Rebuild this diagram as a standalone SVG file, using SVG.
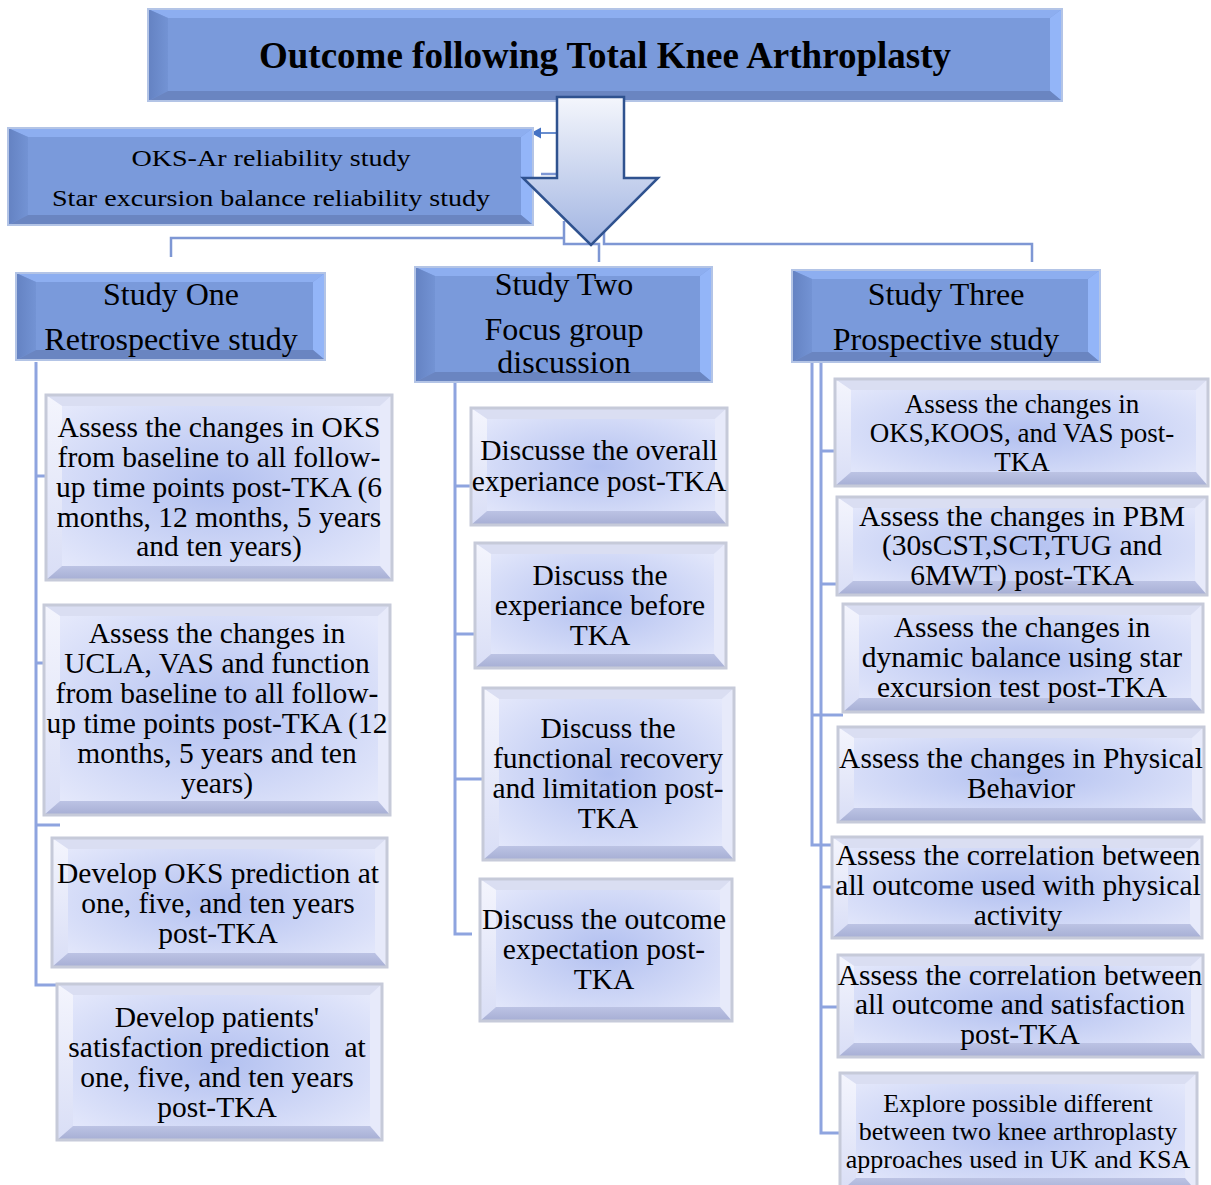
<svg xmlns="http://www.w3.org/2000/svg" width="1211" height="1185" viewBox="0 0 1211 1185">
  <defs>
    <radialGradient id="ltFace" cx="50%" cy="50%" r="62%">
      <stop offset="0" stop-color="#b2c0f0"/>
      <stop offset="1" stop-color="#e4e8fb"/>
    </radialGradient>
    <linearGradient id="arrowFill" x1="0" y1="0" x2="0" y2="1">
      <stop offset="0" stop-color="#f4f6fc"/>
      <stop offset="1" stop-color="#a2b5e2"/>
    </linearGradient>
    <linearGradient id="dkLeft" x1="0" y1="0" x2="1" y2="0">
      <stop offset="0" stop-color="#6482c2"/>
      <stop offset="1" stop-color="#7393d4"/>
    </linearGradient>
    <linearGradient id="ltLeft" x1="0" y1="0" x2="0" y2="1">
      <stop offset="0" stop-color="#f4f5fd"/>
      <stop offset="1" stop-color="#d9def6"/>
    </linearGradient>
    <linearGradient id="ltBottom" x1="0" y1="0" x2="0" y2="1">
      <stop offset="0" stop-color="#bcc3e4"/>
      <stop offset="1" stop-color="#a6aed4"/>
    </linearGradient>
  </defs>
  <style>
    .dk-face { fill: #7a9adb; }
    .dk-t { fill: #8daef0; }
    .dk-l { fill: url(#dkLeft); }
    .dk-r { fill: #93b5f8; }
    .dk-b { fill: #6a85c1; }
    .dk-edge { fill: none; stroke: #b3c4e6; stroke-width: 2; }
    .lt-face { fill: url(#ltFace); }
    .lt-t { fill: #dadef2; }
    .lt-l { fill: url(#ltLeft); }
    .lt-r { fill: #e7eafa; }
    .lt-b { fill: url(#ltBottom); }
    .lt-edge { fill: none; stroke: #c6cad9; stroke-width: 3; }
    .conn { fill: none; stroke: #8ea4df; stroke-width: 3; }
    .conn-top { fill: none; stroke: #7e97d4; stroke-width: 2.5; }
    .t { font-family: "Liberation Serif", "Times New Roman", serif; fill: #000; text-anchor: middle; }
    .title { font-size: 37px; font-weight: bold; }
    .hdr { font-size: 32px; }
    .oks { font-size: 24px; }
    .c { font-size: 29.5px; }
    .cs { font-size: 27px; }
    .cx { font-size: 26px; }
    .bigarrow { fill: url(#arrowFill); stroke: #2f528f; stroke-width: 2.5; stroke-linejoin: miter; }
  </style>

  <rect width="1211" height="1185" fill="#ffffff"/>

  <!-- connectors -->
  <g id="connectors">
    <path class="conn-top" d="M171 257 V238 H564"/>
    <path class="conn-top" d="M564 221 V244 H599 V262"/>
    <path class="conn-top" d="M604 232 V244 H1032 V262"/>
    <path class="conn-top" d="M541 174 H557"/>
    <line x1="557" y1="133" x2="539" y2="133" stroke="#4472c4" stroke-width="1.6"/>
    <polygon points="531,133 541,127.5 541,138.5" fill="#4472c4"/>

    <!-- Study One branches -->
    <path class="conn" d="M36 362 V985 H60"/>
    <path class="conn" d="M36 476 H62 M36 663 H53 M36 825 H60"/>
    <!-- Study Two branches -->
    <path class="conn" d="M455 382 V934 H472"/>
    <path class="conn" d="M455 486 H472 M455 634 H475 M455 779 H484"/>
    <!-- Study Three branches -->
    <path class="conn" d="M812 362 V845 H833"/>
    <path class="conn" d="M812 715 H843"/>
    <path class="conn" d="M821 362 V1133 H840"/>
    <path class="conn" d="M821 451 H835 M821 584 H837 M821 887 H832 M821 1007 H838"/>
  </g>

  <!-- title -->
  <g id="title">
    <rect class="dk-face" x="148" y="9" width="914" height="92"/>
    <polygon class="dk-t" points="148,9 1062,9 1050,18 168,18"/>
    <polygon class="dk-l" points="148,9 168,18 168,91 148,101"/>
    <polygon class="dk-r" points="1062,9 1050,18 1050,91 1062,101"/>
    <polygon class="dk-b" points="148,101 168,91 1050,91 1062,101"/>
    <rect class="dk-edge" x="148" y="9" width="914" height="92"/>
    <text class="t title" x="605" y="68">Outcome following Total Knee Arthroplasty</text>
  </g>

  <!-- reliability studies -->
  <g id="reliability">
    <rect class="dk-face" x="8" y="128" width="525" height="97"/>
    <polygon class="dk-t" points="8,128 533,128 521,137 28,137"/>
    <polygon class="dk-l" points="8,128 28,137 28,215 8,225"/>
    <polygon class="dk-r" points="533,128 521,137 521,215 533,225"/>
    <polygon class="dk-b" points="8,225 28,215 521,215 533,225"/>
    <rect class="dk-edge" x="8" y="128" width="525" height="97"/>
    <text class="t oks" transform="translate(271,166) scale(1.17,1)">OKS-Ar reliability study</text>
    <text class="t oks" transform="translate(271,206) scale(1.17,1)">Star excursion balance reliability study</text>
  </g>

  <!-- central arrow -->
  <g id="main-arrow">
    <polygon class="bigarrow" points="557,97 624,97 624,178 658,178 591,245 523,178 557,178"/>
  </g>

  <!-- Study One -->
  <g id="study-one">
    <rect class="dk-face" x="16" y="273" width="309" height="87"/>
    <polygon class="dk-t" points="16,273 325,273 313,282 36,282"/>
    <polygon class="dk-l" points="16,273 36,282 36,350 16,360"/>
    <polygon class="dk-r" points="325,273 313,282 313,350 325,360"/>
    <polygon class="dk-b" points="16,360 36,350 313,350 325,360"/>
    <rect class="dk-edge" x="16" y="273" width="309" height="87"/>
    <text class="t hdr" x="171" y="305">Study One</text>
    <text class="t hdr" x="171" y="350">Retrospective study</text>
  </g>

  <!-- Study Two -->
  <g id="study-two">
    <rect class="dk-face" x="415" y="267" width="297" height="115"/>
    <polygon class="dk-t" points="415,267 712,267 700,276 435,276"/>
    <polygon class="dk-l" points="415,267 435,276 435,372 415,382"/>
    <polygon class="dk-r" points="712,267 700,276 700,372 712,382"/>
    <polygon class="dk-b" points="415,382 435,372 700,372 712,382"/>
    <rect class="dk-edge" x="415" y="267" width="297" height="115"/>
    <text class="t hdr" x="564" y="295">Study Two</text>
    <text class="t hdr" x="564" y="340">Focus group</text>
    <text class="t hdr" x="564" y="373">discussion</text>
  </g>

  <!-- Study Three -->
  <g id="study-three">
    <rect class="dk-face" x="792" y="270" width="308" height="92"/>
    <polygon class="dk-t" points="792,270 1100,270 1088,279 812,279"/>
    <polygon class="dk-l" points="792,270 812,279 812,352 792,362"/>
    <polygon class="dk-r" points="1100,270 1088,279 1088,352 1100,362"/>
    <polygon class="dk-b" points="792,362 812,352 1088,352 1100,362"/>
    <rect class="dk-edge" x="792" y="270" width="308" height="92"/>
    <text class="t hdr" x="946" y="305">Study Three</text>
    <text class="t hdr" x="946" y="350">Prospective study</text>
  </g>

  <!-- Study One tasks -->
  <g id="s1-oks-change">
    <rect class="lt-face" x="46" y="395" width="346" height="185"/>
    <polygon class="lt-t" points="46,395 392,395 380,406 62,406"/>
    <polygon class="lt-l" points="46,395 62,406 62,566 46,580"/>
    <polygon class="lt-r" points="392,395 380,406 380,566 392,580"/>
    <polygon class="lt-b" points="46,580 62,566 380,566 392,580"/>
    <rect class="lt-edge" x="46" y="395" width="346" height="185"/>
    <text class="t c" x="219" y="437">Assess the changes in OKS</text>
    <text class="t c" x="219" y="467">from baseline to all follow-</text>
    <text class="t c" x="219" y="497">up time points post-TKA (6</text>
    <text class="t c" x="219" y="527">months, 12 months, 5 years</text>
    <text class="t c" x="219" y="556">and ten years)</text>
  </g>

  <g id="s1-ucla-change">
    <rect class="lt-face" x="44" y="605" width="346" height="210"/>
    <polygon class="lt-t" points="44,605 390,605 378,616 60,616"/>
    <polygon class="lt-l" points="44,605 60,616 60,801 44,815"/>
    <polygon class="lt-r" points="390,605 378,616 378,801 390,815"/>
    <polygon class="lt-b" points="44,815 60,801 378,801 390,815"/>
    <rect class="lt-edge" x="44" y="605" width="346" height="210"/>
    <text class="t c" x="217" y="643">Assess the changes in</text>
    <text class="t c" x="217" y="673">UCLA, VAS and function</text>
    <text class="t c" x="217" y="703">from baseline to all follow-</text>
    <text class="t c" x="217" y="733">up time points post-TKA (12</text>
    <text class="t c" x="217" y="763">months, 5 years and ten</text>
    <text class="t c" x="217" y="793">years)</text>
  </g>

  <g id="s1-oks-prediction">
    <rect class="lt-face" x="52" y="838" width="335" height="129"/>
    <polygon class="lt-t" points="52,838 387,838 375,849 68,849"/>
    <polygon class="lt-l" points="52,838 68,849 68,953 52,967"/>
    <polygon class="lt-r" points="387,838 375,849 375,953 387,967"/>
    <polygon class="lt-b" points="52,967 68,953 375,953 387,967"/>
    <rect class="lt-edge" x="52" y="838" width="335" height="129"/>
    <text class="t c" x="218" y="883">Develop OKS prediction at</text>
    <text class="t c" x="218" y="913">one, five, and ten years</text>
    <text class="t c" x="218" y="943">post-TKA</text>
  </g>

  <g id="s1-satisfaction-prediction">
    <rect class="lt-face" x="57" y="984" width="325" height="156"/>
    <polygon class="lt-t" points="57,984 382,984 370,995 73,995"/>
    <polygon class="lt-l" points="57,984 73,995 73,1126 57,1140"/>
    <polygon class="lt-r" points="382,984 370,995 370,1126 382,1140"/>
    <polygon class="lt-b" points="57,1140 73,1126 370,1126 382,1140"/>
    <rect class="lt-edge" x="57" y="984" width="325" height="156"/>
    <text class="t c" x="217" y="1027">Develop patients'</text>
    <text class="t c" x="217" y="1057" xml:space="preserve">satisfaction prediction  at</text>
    <text class="t c" x="217" y="1087">one, five, and ten years</text>
    <text class="t c" x="217" y="1117">post-TKA</text>
  </g>

  <!-- Study Two topics -->
  <g id="s2-overall">
    <rect class="lt-face" x="471" y="408" width="256" height="117"/>
    <polygon class="lt-t" points="471,408 727,408 715,419 487,419"/>
    <polygon class="lt-l" points="471,408 487,419 487,511 471,525"/>
    <polygon class="lt-r" points="727,408 715,419 715,511 727,525"/>
    <polygon class="lt-b" points="471,525 487,511 715,511 727,525"/>
    <rect class="lt-edge" x="471" y="408" width="256" height="117"/>
    <text class="t c" x="599" y="460">Discusse the overall</text>
    <text class="t c" x="599" y="491">experiance post-TKA</text>
  </g>

  <g id="s2-before">
    <rect class="lt-face" x="475" y="543" width="251" height="125"/>
    <polygon class="lt-t" points="475,543 726,543 714,554 491,554"/>
    <polygon class="lt-l" points="475,543 491,554 491,654 475,668"/>
    <polygon class="lt-r" points="726,543 714,554 714,654 726,668"/>
    <polygon class="lt-b" points="475,668 491,654 714,654 726,668"/>
    <rect class="lt-edge" x="475" y="543" width="251" height="125"/>
    <text class="t c" x="600" y="585">Discuss the</text>
    <text class="t c" x="600" y="615">experiance before</text>
    <text class="t c" x="600" y="645">TKA</text>
  </g>

  <g id="s2-recovery">
    <rect class="lt-face" x="483" y="688" width="251" height="172"/>
    <polygon class="lt-t" points="483,688 734,688 722,699 499,699"/>
    <polygon class="lt-l" points="483,688 499,699 499,846 483,860"/>
    <polygon class="lt-r" points="734,688 722,699 722,846 734,860"/>
    <polygon class="lt-b" points="483,860 499,846 722,846 734,860"/>
    <rect class="lt-edge" x="483" y="688" width="251" height="172"/>
    <text class="t c" x="608" y="738">Discuss the</text>
    <text class="t c" x="608" y="768">functional recovery</text>
    <text class="t c" x="608" y="798">and limitation post-</text>
    <text class="t c" x="608" y="828">TKA</text>
  </g>

  <g id="s2-expectation">
    <rect class="lt-face" x="480" y="879" width="252" height="142"/>
    <polygon class="lt-t" points="480,879 732,879 720,890 496,890"/>
    <polygon class="lt-l" points="480,879 496,890 496,1007 480,1021"/>
    <polygon class="lt-r" points="732,879 720,890 720,1007 732,1021"/>
    <polygon class="lt-b" points="480,1021 496,1007 720,1007 732,1021"/>
    <rect class="lt-edge" x="480" y="879" width="252" height="142"/>
    <text class="t c" x="604" y="929">Discuss the outcome</text>
    <text class="t c" x="604" y="959">expectation post-</text>
    <text class="t c" x="604" y="989">TKA</text>
  </g>

  <!-- Study Three aims -->
  <g id="s3-proms">
    <rect class="lt-face" x="835" y="379" width="373" height="107"/>
    <polygon class="lt-t" points="835,379 1208,379 1196,390 851,390"/>
    <polygon class="lt-l" points="835,379 851,390 851,472 835,486"/>
    <polygon class="lt-r" points="1208,379 1196,390 1196,472 1208,486"/>
    <polygon class="lt-b" points="835,486 851,472 1196,472 1208,486"/>
    <rect class="lt-edge" x="835" y="379" width="373" height="107"/>
    <text class="t cs" x="1022" y="413">Assess the changes in</text>
    <text class="t cs" x="1022" y="442">OKS,KOOS, and VAS post-</text>
    <text class="t cs" x="1022" y="471">TKA</text>
  </g>

  <g id="s3-pbm">
    <rect class="lt-face" x="837" y="497" width="370" height="98"/>
    <polygon class="lt-t" points="837,497 1207,497 1195,508 853,508"/>
    <polygon class="lt-l" points="837,497 853,508 853,581 837,595"/>
    <polygon class="lt-r" points="1207,497 1195,508 1195,581 1207,595"/>
    <polygon class="lt-b" points="837,595 853,581 1195,581 1207,595"/>
    <rect class="lt-edge" x="837" y="497" width="370" height="98"/>
    <text class="t c" x="1022" y="526">Assess the changes in PBM</text>
    <text class="t c" x="1022" y="555">(30sCST,SCT,TUG and</text>
    <text class="t c" x="1022" y="585">6MWT) post-TKA</text>
  </g>

  <g id="s3-balance">
    <rect class="lt-face" x="843" y="604" width="360" height="108"/>
    <polygon class="lt-t" points="843,604 1203,604 1191,615 859,615"/>
    <polygon class="lt-l" points="843,604 859,615 859,698 843,712"/>
    <polygon class="lt-r" points="1203,604 1191,615 1191,698 1203,712"/>
    <polygon class="lt-b" points="843,712 859,698 1191,698 1203,712"/>
    <rect class="lt-edge" x="843" y="604" width="360" height="108"/>
    <text class="t c" x="1022" y="637">Assess the changes in</text>
    <text class="t c" x="1022" y="667">dynamic balance using star</text>
    <text class="t c" x="1022" y="697">excursion test post-TKA</text>
  </g>

  <g id="s3-behavior">
    <rect class="lt-face" x="838" y="727" width="366" height="95"/>
    <polygon class="lt-t" points="838,727 1204,727 1192,738 854,738"/>
    <polygon class="lt-l" points="838,727 854,738 854,808 838,822"/>
    <polygon class="lt-r" points="1204,727 1192,738 1192,808 1204,822"/>
    <polygon class="lt-b" points="838,822 854,808 1192,808 1204,822"/>
    <rect class="lt-edge" x="838" y="727" width="366" height="95"/>
    <text class="t c" x="1021" y="768">Assess the changes in Physical</text>
    <text class="t c" x="1021" y="798">Behavior</text>
  </g>

  <g id="s3-activity-correlation">
    <rect class="lt-face" x="832" y="837" width="370" height="101"/>
    <polygon class="lt-t" points="832,837 1202,837 1190,848 848,848"/>
    <polygon class="lt-l" points="832,837 848,848 848,924 832,938"/>
    <polygon class="lt-r" points="1202,837 1190,848 1190,924 1202,938"/>
    <polygon class="lt-b" points="832,938 848,924 1190,924 1202,938"/>
    <rect class="lt-edge" x="832" y="837" width="370" height="101"/>
    <text class="t c" x="1018" y="865">Assess the correlation between</text>
    <text class="t c" x="1018" y="895">all outcome used with physical</text>
    <text class="t c" x="1018" y="925">activity</text>
  </g>

  <g id="s3-satisfaction-correlation">
    <rect class="lt-face" x="838" y="955" width="365" height="102"/>
    <polygon class="lt-t" points="838,955 1203,955 1191,966 854,966"/>
    <polygon class="lt-l" points="838,955 854,966 854,1043 838,1057"/>
    <polygon class="lt-r" points="1203,955 1191,966 1191,1043 1203,1057"/>
    <polygon class="lt-b" points="838,1057 854,1043 1191,1043 1203,1057"/>
    <rect class="lt-edge" x="838" y="955" width="365" height="102"/>
    <text class="t c" x="1020" y="985">Assess the correlation between</text>
    <text class="t c" x="1020" y="1014">all outcome and satisfaction</text>
    <text class="t c" x="1020" y="1044">post-TKA</text>
  </g>

  <g id="s3-approaches">
    <rect class="lt-face" x="840" y="1073" width="357" height="119"/>
    <polygon class="lt-t" points="840,1073 1197,1073 1185,1084 856,1084"/>
    <polygon class="lt-l" points="840,1073 856,1084 856,1178 840,1192"/>
    <polygon class="lt-r" points="1197,1073 1185,1084 1185,1178 1197,1192"/>
    <polygon class="lt-b" points="840,1192 856,1178 1185,1178 1197,1192"/>
    <rect class="lt-edge" x="840" y="1073" width="357" height="119"/>
    <text class="t cx" x="1018" y="1112">Explore possible different</text>
    <text class="t cx" x="1018" y="1140">between two knee arthroplasty</text>
    <text class="t cx" x="1018" y="1168">approaches used in UK and KSA</text>
  </g>
</svg>
